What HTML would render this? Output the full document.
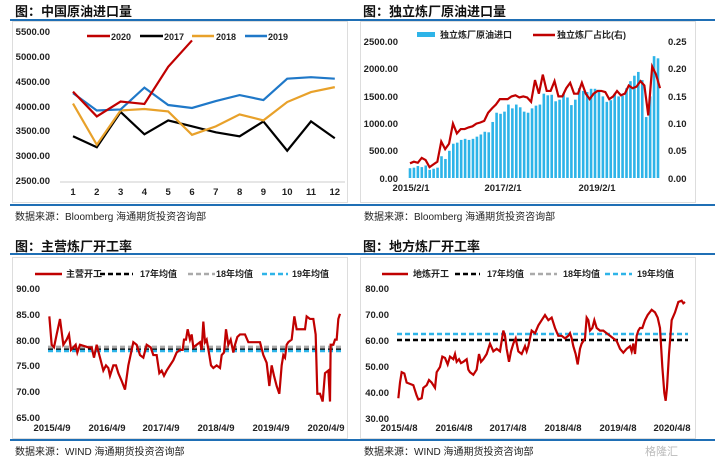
<!DOCTYPE html>
<html><head><meta charset="utf-8"><style>
body{margin:0;background:#fff}
svg{display:block;font-family:"Liberation Sans","Noto Sans CJK SC",sans-serif}
.t{font-size:13px;font-weight:bold;fill:#111}
.a{font-size:9.5px;font-weight:bold;fill:#222}
.l{font-size:9px;font-weight:bold;fill:#222}
.f{font-size:10px;fill:#222}
</style></head><body>
<svg id="s" width="715" height="458" viewBox="0 0 715 458">
<!-- frames -->
<rect x="12.5" y="21.5" width="335" height="181" fill="none" stroke="#ddd"/>
<rect x="360.5" y="21.5" width="335" height="181" fill="none" stroke="#ddd"/>
<rect x="12.5" y="257.5" width="335" height="181" fill="none" stroke="#ddd"/>
<rect x="360.5" y="257.5" width="335" height="181" fill="none" stroke="#ddd"/>
<g stroke="#1f6fb5" stroke-width="2">
<line x1="10" y1="20" x2="357" y2="20"/><line x1="357" y1="20" x2="715" y2="20"/>
<line x1="10" y1="205" x2="357" y2="205"/><line x1="357" y1="205" x2="715" y2="205"/>
<line x1="10" y1="254" x2="357" y2="254"/><line x1="357" y1="254" x2="715" y2="254"/>
<line x1="10" y1="440" x2="357" y2="440"/><line x1="357" y1="440" x2="715" y2="440"/>
</g>
<text class="t" x="15" y="16">图：中国原油进口量</text>
<text class="t" x="363" y="16">图：独立炼厂原油进口量</text>
<text class="t" x="15" y="251">图：主营炼厂开工率</text>
<text class="t" x="363" y="251">图：地方炼厂开工率</text>
<text class="f" x="15" y="220">数据来源：Bloomberg  海通期货投资咨询部</text>
<text class="f" x="364" y="220">数据来源：Bloomberg  海通期货投资咨询部</text>
<text class="f" x="15" y="455">数据来源：WIND   海通期货投资咨询部</text>
<text class="f" x="364" y="455">数据来源：WIND   海通期货投资咨询部</text>
<text x="645" y="455" font-size="11" fill="#bbb">格隆汇</text>

<!-- chart 1 -->
<g class="a" text-anchor="end">
<text x="50" y="35">5500.00</text><text x="50" y="60">5000.00</text><text x="50" y="85">4500.00</text>
<text x="50" y="110">4000.00</text><text x="50" y="134">3500.00</text><text x="50" y="159">3000.00</text><text x="50" y="184">2500.00</text>
</g>
<line x1="60" y1="182" x2="345" y2="182" stroke="#ccc"/>
<g class="a" text-anchor="middle" id="x1"></g>
<g stroke-width="2.5" id="leg1">
<line x1="87" y1="36" x2="110" y2="36" stroke="#c00000"/>
<line x1="140" y1="36" x2="163" y2="36" stroke="#000"/>
<line x1="192" y1="36" x2="214" y2="36" stroke="#e8a12a"/>
<line x1="245" y1="36" x2="267" y2="36" stroke="#1f78c8"/>
</g>
<g class="l"><text x="111" y="40">2020</text><text x="164" y="40">2017</text><text x="216" y="40">2018</text><text x="268" y="40">2019</text></g>
<g id="c1" fill="none" stroke-width="2.2"></g>

<!-- chart 2 -->
<g class="a" text-anchor="end">
<text x="398" y="45">2500.00</text><text x="398" y="72">2000.00</text><text x="398" y="100">1500.00</text>
<text x="398" y="127">1000.00</text><text x="398" y="154">500.00</text><text x="398" y="182">0.00</text>
</g>
<g class="a">
<text x="668" y="45">0.25</text><text x="668" y="72">0.20</text><text x="668" y="100">0.15</text>
<text x="668" y="127">0.10</text><text x="668" y="154">0.05</text><text x="668" y="182">0.00</text>
</g>
<g class="a" text-anchor="middle"><text x="411" y="191">2015/2/1</text><text x="503" y="191">2017/2/1</text><text x="597" y="191">2019/2/1</text></g>
<rect x="417" y="32" width="18" height="5" fill="#2eb4e8"/>
<text class="l" x="440" y="38">独立炼厂原油进口</text>
<line x1="533" y1="35" x2="555" y2="35" stroke="#c00000" stroke-width="2.5"/>
<text class="l" x="557" y="38">独立炼厂占比(右)</text>
<g id="c2"></g>

<!-- chart 3 -->
<g class="a" text-anchor="end">
<text x="40" y="292">90.00</text><text x="40" y="318">85.00</text><text x="40" y="344">80.00</text>
<text x="40" y="369">75.00</text><text x="40" y="395">70.00</text><text x="40" y="421">65.00</text>
</g>
<g class="a" text-anchor="middle"><text x="52" y="431">2015/4/9</text><text x="107" y="431">2016/4/9</text><text x="161" y="431">2017/4/9</text><text x="216" y="431">2018/4/9</text><text x="271" y="431">2019/4/9</text><text x="326" y="431">2020/4/9</text></g>
<line x1="35" y1="274" x2="62" y2="274" stroke="#c00000" stroke-width="2.5"/>
<line x1="100" y1="274" x2="133" y2="274" stroke="#000" stroke-width="2.5" stroke-dasharray="5,3"/>
<line x1="188" y1="274" x2="215" y2="274" stroke="#aaa" stroke-width="2.5" stroke-dasharray="5,3"/>
<line x1="262" y1="274" x2="288" y2="274" stroke="#2eb4e8" stroke-width="2.5" stroke-dasharray="5,3"/>
<g class="l"><text x="66" y="277">主营开工</text><text x="140" y="277">17年均值</text><text x="216" y="277">18年均值</text><text x="292" y="277">19年均值</text></g>
<g id="c3"></g>

<!-- chart 4 -->
<g class="a" text-anchor="end">
<text x="389" y="292">80.00</text><text x="389" y="318">70.00</text><text x="389" y="344">60.00</text>
<text x="389" y="370">50.00</text><text x="389" y="396">40.00</text><text x="389" y="422">30.00</text>
</g>
<g class="a" text-anchor="middle"><text x="399" y="431">2015/4/8</text><text x="454" y="431">2016/4/8</text><text x="508" y="431">2017/4/8</text><text x="563" y="431">2018/4/8</text><text x="618" y="431">2019/4/8</text><text x="672" y="431">2020/4/8</text></g>
<line x1="382" y1="274" x2="408" y2="274" stroke="#c00000" stroke-width="2.5"/>
<line x1="455" y1="274" x2="480" y2="274" stroke="#000" stroke-width="2.5" stroke-dasharray="5,3"/>
<line x1="530" y1="274" x2="557" y2="274" stroke="#aaa" stroke-width="2.5" stroke-dasharray="5,3"/>
<line x1="605" y1="274" x2="632" y2="274" stroke="#2eb4e8" stroke-width="2.5" stroke-dasharray="5,3"/>
<g class="l"><text x="413" y="277">地炼开工</text><text x="487" y="277">17年均值</text><text x="563" y="277">18年均值</text><text x="637" y="277">19年均值</text></g>
<g id="c4"></g>
</svg>
<script>
var NS="http://www.w3.org/2000/svg";
function el(p,t,a){var e=document.createElementNS(NS,t);for(var k in a)e.setAttribute(k,a[k]);p.appendChild(e);return e;}
// chart1
var x1=document.getElementById("x1");
for(var i=1;i<=12;i++){var t=el(x1,"text",{x:73+(i-1)*23.8,y:195});t.textContent=i;}
var c1=document.getElementById("c1");
function y1(v){return 181-(v-2500)*149/3000;}
var S1=[["#000",[3400,3180,3890,3440,3720,3600,3480,3400,3700,3110,3700,3360]],
["#e8a12a",[4060,3230,3920,3950,3900,3430,3600,3840,3720,4090,4290,4390]],
["#1f78c8",[4270,3920,3940,4380,4030,3970,4110,4230,4130,4560,4590,4560]],
["#c00000",[4300,3800,4100,4050,4800,5330]]];
S1.forEach(function(s){el(c1,"polyline",{points:s[1].map(function(v,i){return (73+i*23.8)+","+y1(v)}).join(" "),stroke:s[0]});});
// chart2
var c2=document.getElementById("c2");
var B=[180,190,220,200,230,150,170,190,400,350,500,630,650,700,720,700,720,760,800,850,840,1030,1200,1180,1220,1350,1280,1350,1300,1220,1200,1280,1330,1350,1550,1520,1530,1410,1440,1550,1480,1340,1440,1650,1600,1580,1640,1640,1620,1500,1400,1430,1550,1500,1510,1650,1780,1880,1950,1800,1120,1500,2240,2200];
var R=[0.027,0.03,0.028,0.037,0.033,0.02,0.025,0.03,0.067,0.053,0.063,0.1,0.082,0.09,0.09,0.093,0.095,0.1,0.102,0.105,0.12,0.128,0.135,0.145,0.145,0.145,0.15,0.152,0.148,0.15,0.148,0.14,0.18,0.155,0.19,0.16,0.16,0.178,0.15,0.15,0.165,0.175,0.155,0.155,0.175,0.155,0.145,0.155,0.16,0.16,0.158,0.145,0.15,0.16,0.152,0.155,0.17,0.165,0.168,0.178,0.17,0.115,0.205,0.19,0.165];
var x0=410,dx=(658-410)/(B.length-1);
B.forEach(function(v,i){var h=v*136/2500;el(c2,"rect",{x:x0+i*dx-1.3,y:178-h,width:2.6,height:h,fill:"#2eb4e8"});});
var rdx=(660-410)/(R.length-1);
el(c2,"polyline",{points:R.map(function(v,i){return (x0+i*rdx)+","+(178-v*136/0.25)}).join(" "),fill:"none",stroke:"#c00000","stroke-width":2.2});
// chart3
var c3=document.getElementById("c3");
function y3(v){return 417-(v-65)*25.8/5;}
el(c3,"line",{x1:48,y1:y3(78.6),x2:342,y2:y3(78.6),stroke:"#aaa","stroke-width":2.5,"stroke-dasharray":"5,3"});
el(c3,"line",{x1:48,y1:y3(78.1),x2:342,y2:y3(78.1),stroke:"#000","stroke-width":2,"stroke-dasharray":"5,3"});
el(c3,"line",{x1:48,y1:y3(77.8),x2:342,y2:y3(77.8),stroke:"#2eb4e8","stroke-width":2.5,"stroke-dasharray":"5,3"});
var K3=[148,84.5,155,79,162,78.5,170,81,180,84,190,79,200,80,207,81,213,78,220,78.5,227,79,232,77.5,240,79,250,78.8,265,78.5,275,78.5,282,76.5,290,79,300,76.5,310,74,318,75,325,74.5,330,73,340,75,348,75,355,73.5,365,72,375,70.3,385,75,395,78,400,79.5,410,79,420,77,430,76.5,440,79,452,78.5,460,77,470,77,478,73.5,485,74,492,73,500,74,510,75,520,76,530,77.5,540,78,548,78,552,80,558,80,563,82,570,80,575,81,580,78.5,590,79,600,79.5,605,78,610,83.5,615,79.5,620,80,628,77,633,75,640,74.5,650,75,660,74.5,665,77,672,77.5,678,82,685,79,692,80,700,77.5,705,79,712,80.5,720,81,735,81,745,79.5,760,79.5,780,79.5,790,77,800,75.5,808,71,815,75,822,73,830,71,838,69.5,845,75,850,77,855,76.5,860,79,865,79.5,875,80,883,84.5,890,82,900,82,915,82,920,84.5,930,84,940,84,947,81,952,69.5,960,69.5,968,68,975,73.5,985,74,990,68,992,79,1000,79,1005,80,1010,80,1015,84,1020,85];
var p=[];for(var i=0;i<K3.length;i+=2)p.push((K3[i]/3)+","+y3(K3[i+1]));
el(c3,"polyline",{points:p.join(" "),fill:"none",stroke:"#c00000","stroke-width":2.2});
// chart4
var c4=document.getElementById("c4");
function y4(v){return 419-(v-30)*2.6;}
el(c4,"line",{x1:397,y1:340,x2:688,y2:340,stroke:"#000","stroke-width":2.5,"stroke-dasharray":"5,3"});
el(c4,"line",{x1:397,y1:334,x2:688,y2:334,stroke:"#2eb4e8","stroke-width":2.5,"stroke-dasharray":"5,3"});
var K4=[130,38,135,44,140,48,148,47.5,155,44,165,43.5,175,43,185,39,190,37.5,200,38,205,42,215,43,222,45,230,44,240,42,245,48,255,50,262,54,270,53.5,278,51,285,54,295,53,300,55,305,52,312,53,318,51.5,325,52,335,53,340,49,345,48,355,47,365,49,372,55,378,52,385,53,395,55,405,59,415,56,425,57,435,56,445,64,450,62,455,57,462,52,468,56,475,59,482,61,490,56,500,55,510,58,515,56,520,58,530,64,540,63,550,66,560,68,570,70,580,68,590,69,600,65,610,62,620,62,630,61,640,62,645,63,650,61,655,58,662,55,668,51,675,57,680,59,690,61,695,69,700,68,705,64,712,65,718,68,725,65,735,64,745,64,755,63,765,62,775,61,785,60,795,57,805,55.5,815,57,825,58,830,56,835,59,840,55,845,62,850,64,855,65,862,65,870,68,878,70,890,72,900,71,908,69,915,65,922,50,928,40,932,37,936,42,942,55,950,68,960,71,970,75,980,75.5,985,74.5,990,75];
p=[];for(var i=0;i<K4.length;i+=2)p.push((355+K4[i]/3)+","+y4(K4[i+1]));
el(c4,"polyline",{points:p.join(" "),fill:"none",stroke:"#c00000","stroke-width":2.2});
</script>
</body></html>
